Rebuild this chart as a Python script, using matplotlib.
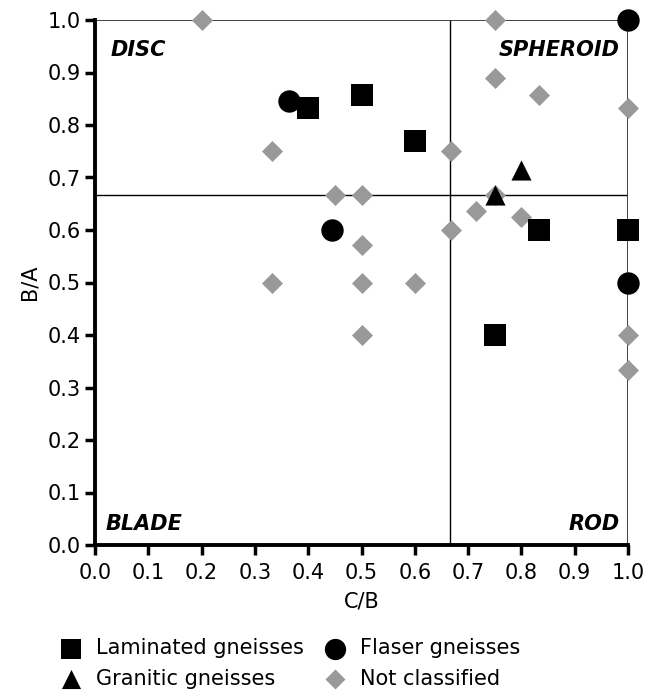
import numpy as np
import matplotlib
matplotlib.use('Agg')
import matplotlib.pyplot as plt

plt.rcParams['font.family'] = ['DejaVu Sans']

# data (x = C/B, y = B/A)
lamX = [0.40, 0.50, 0.60, 0.833, 1.0, 0.75]
lamY = [0.833, 0.857, 0.769, 0.60, 0.60, 0.40]

flaX = [0.364, 1.0, 0.444, 1.0]
flaY = [0.846, 1.0, 0.60, 0.50]

graX = [0.80, 0.75]
graY = [0.714, 0.667]

ncX = [0.2, 0.75, 0.75, 0.833, 1.0, 0.333, 0.667, 0.45, 0.5, 0.75, 0.714, 0.8,
       0.667, 0.5, 0.333, 0.5, 0.6, 0.5, 1.0, 1.0]
ncY = [1.0, 1.0, 0.889, 0.857, 0.833, 0.75, 0.75, 0.667, 0.667, 0.667, 0.636, 0.625,
       0.60, 0.571, 0.50, 0.50, 0.50, 0.40, 0.40, 0.333]

ticks = np.arange(0, 1.01, 0.1)
limit = 2 / 3

fig = plt.figure(figsize=(6.52, 6.93), dpi=100)
ax = fig.add_axes([95 / 652, 148 / 693, 533 / 652, 525 / 693])

# class boundaries
ax.plot([0, 1], [limit, limit], color='black', lw=1)
ax.plot([limit, limit], [0, 1], color='black', lw=1)
ax.plot([0, 1], [1, 1], color='#333333', lw=1.3)
ax.plot([1, 1], [0, 1], color='#333333', lw=1.3)

nc = ax.scatter(ncX, ncY, marker='D', s=115, color='#999999', linewidths=0,
                clip_on=False, zorder=3, label='Not classified')
lam = ax.scatter(lamX, lamY, marker='s', s=230, color='black', linewidths=0,
                 clip_on=False, zorder=4, label='Laminated gneisses')
fla = ax.scatter(flaX, flaY, marker='o', s=260, color='black', linewidths=0,
                 clip_on=False, zorder=4, label='Flaser gneisses')
gra = ax.scatter(graX, graY, marker='^', s=210, color='black', linewidths=0,
                 clip_on=False, zorder=4, label='Granitic gneisses')

ax.set_xlim(0, 1)
ax.set_ylim(0, 1)
ax.set_xticks(ticks)
ax.set_yticks(ticks)
ax.set_xticklabels(['%.1f' % t for t in ticks])
ax.set_yticklabels(['%.1f' % t for t in ticks])
ax.tick_params(direction='out', length=7, width=2.5, labelsize=15, pad=3)
ax.tick_params(axis='x', pad=6)
for s in ['top', 'right']:
    ax.spines[s].set_visible(False)
for s in ['left', 'bottom']:
    ax.spines[s].set_linewidth(2.8)

ax.set_xlabel('C/B', fontsize=15, labelpad=6)
ax.set_ylabel('B/A', fontsize=15, labelpad=6)

kw = dict(fontsize=15, fontweight='bold', fontstyle='italic')
ax.text(0.03, 0.943, 'DISC', ha='left', va='center', **kw)
ax.text(0.985, 0.943, 'SPHEROID', ha='right', va='center', **kw)
ax.text(0.02, 0.04, 'BLADE', ha='left', va='center', **kw)
ax.text(0.985, 0.04, 'ROD', ha='right', va='center', **kw)

fig.legend(handles=[lam, gra, fla, nc], ncol=2, frameon=False, fontsize=15,
           loc='upper left', bbox_to_anchor=(42 / 652, 1 - 630 / 693),
           handletextpad=0.2, columnspacing=0.5, labelspacing=0.5,
           markerscale=0.95, borderaxespad=0)

fig.savefig('out.png', dpi=100)
